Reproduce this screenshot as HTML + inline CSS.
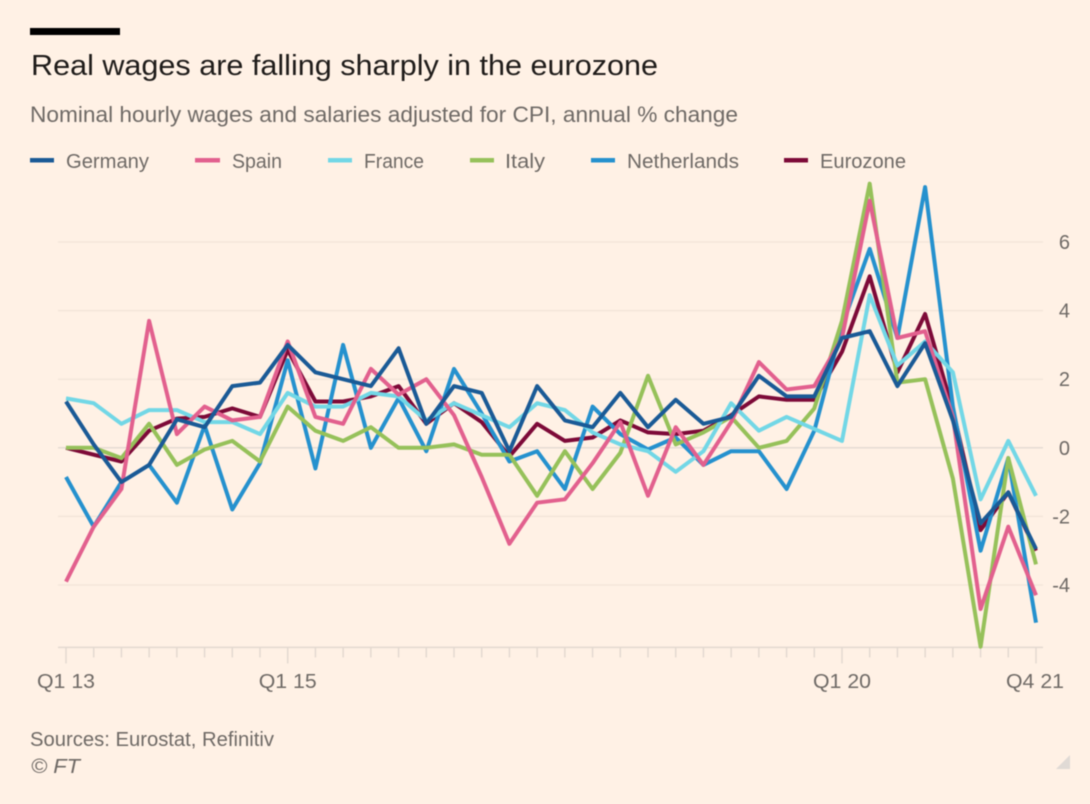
<!DOCTYPE html>
<html lang="en">
<head>
<meta charset="utf-8">
<title>Real wages are falling sharply in the eurozone</title>
<style>
html,body{margin:0;padding:0;background:#fff1e5;}
svg{display:block;font-family:"Liberation Sans",sans-serif;filter:blur(0.4px);}
</style>
</head>
<body>
<svg id="chart" width="1090" height="804" viewBox="0 0 1090 804" xmlns="http://www.w3.org/2000/svg">
  <rect x="0" y="0" width="1090" height="804" fill="#fff1e5"/>
  <rect x="30" y="28" width="90" height="7" fill="#000"/>
  <text x="31" y="75" font-size="29" fill="#1f1c1a" textLength="627" lengthAdjust="spacingAndGlyphs">Real wages are falling sharply in the eurozone</text>
  <text x="30" y="122" font-size="22" fill="#6f6a66" textLength="708" lengthAdjust="spacingAndGlyphs">Nominal hourly wages and salaries adjusted for CPI, annual % change</text>

  <g>
    <g>
      <rect x="30" y="158" width="24" height="4.5" fill="#1a5a96"/>
      <text x="66" y="168" font-size="20" fill="#6f6a66" textLength="83" lengthAdjust="spacingAndGlyphs">Germany</text>
    </g>
    <g>
      <rect x="195" y="158" width="25" height="4.5" fill="#e2608e"/>
      <text x="232" y="168" font-size="20" fill="#6f6a66" textLength="50" lengthAdjust="spacingAndGlyphs">Spain</text>
    </g>
    <g>
      <rect x="328" y="158" width="24" height="4.5" fill="#72d7e6"/>
      <text x="364" y="168" font-size="20" fill="#6f6a66" textLength="60" lengthAdjust="spacingAndGlyphs">France</text>
    </g>
    <g>
      <rect x="470" y="158" width="24" height="4.5" fill="#96c15a"/>
      <text x="505" y="168" font-size="20" fill="#6f6a66" textLength="40" lengthAdjust="spacingAndGlyphs">Italy</text>
    </g>
    <g>
      <rect x="591" y="158" width="24" height="4.5" fill="#2591ce"/>
      <text x="627" y="168" font-size="20" fill="#6f6a66" textLength="112" lengthAdjust="spacingAndGlyphs">Netherlands</text>
    </g>
    <g>
      <rect x="784" y="158" width="24" height="4.5" fill="#7d0a38"/>
      <text x="820" y="168" font-size="20" fill="#6f6a66" textLength="86" lengthAdjust="spacingAndGlyphs">Eurozone</text>
    </g>
  </g>

  <g id="grid"></g>
  <g id="yticks"></g>
  <g id="xaxis"></g>
  <g id="series"></g>

  <text x="30" y="746" font-size="20" fill="#6f6a66" textLength="244" lengthAdjust="spacingAndGlyphs">Sources: Eurostat, Refinitiv</text>
  <text x="31" y="773" font-size="20" font-style="italic" fill="#6f6a66" textLength="49" lengthAdjust="spacingAndGlyphs">© FT</text>
  <polygon points="1056,769 1070,755 1070,769" fill="#e0dad5"/>
</svg>

<script>
const quarterCount = 36;
const yTicks = [6, 4, 2, 0, -2, -4];
const xTickLabels = ["Q1 13", "Q1 15", "Q1 20", "Q4 21"];
const xLabelQuarters = [0, 8, 28, 35];
const germany = [1.35,0.1,-1.0,-0.5,0.83,0.6,1.8,1.9,3.0,2.2,2.0,1.8,2.9,0.7,1.8,1.6,-0.1,1.8,0.8,0.6,1.6,0.6,1.4,0.7,0.9,2.1,1.5,1.5,3.2,3.4,1.8,3.05,0.8,-2.2,-1.3,-2.95];
const spain = [-3.9,-2.3,-1.2,3.7,0.4,1.2,0.8,0.9,3.1,0.9,0.7,2.3,1.55,2.0,0.95,-0.85,-2.8,-1.6,-1.5,-0.45,0.75,-1.4,0.6,-0.5,0.75,2.5,1.7,1.8,3.2,7.2,3.2,3.4,0.9,-4.7,-2.3,-4.3];
const france = [1.44,1.3,0.7,1.1,1.1,0.75,0.75,0.4,1.6,1.2,1.2,1.6,1.5,0.8,1.3,0.95,0.6,1.3,1.1,0.45,0.1,-0.1,-0.7,-0.1,1.3,0.5,0.9,0.55,0.2,4.45,2.4,3.1,2.2,-1.5,0.2,-1.4];
const italy = [0,0,-0.3,0.7,-0.5,-0.05,0.2,-0.4,1.2,0.5,0.2,0.6,0,0,0.1,-0.2,-0.2,-1.4,-0.1,-1.2,-0.15,2.1,0.1,0.45,0.9,0,0.2,1.15,3.7,7.7,1.9,2.0,-0.9,-5.8,-0.3,-3.4];
const netherlands = [-0.85,-2.3,-1.0,-0.5,-1.6,0.65,-1.8,-0.45,2.55,-0.6,3.0,0,1.45,-0.1,2.3,1.0,-0.4,-0.1,-1.2,1.2,0.4,-0.05,0.3,-0.5,-0.1,-0.1,-1.2,0.5,3.55,5.8,3.2,7.6,1.2,-3.0,-0.3,-5.1];
const eurozone = [0,-0.2,-0.4,0.5,0.85,0.9,1.15,0.9,2.85,1.35,1.35,1.5,1.8,0.7,1.3,0.75,-0.25,0.7,0.2,0.3,0.8,0.45,0.4,0.5,0.95,1.5,1.4,1.4,2.8,5.0,2.2,3.9,1.1,-2.4,-1.3,-3.0];

const NS = "http://www.w3.org/2000/svg";
function xScale(q){ return 66 + q * (1036 - 66) / (quarterCount - 1); }
function yScale(v){ return 447.8 - v * 34.3; }
function mk(tag, attrs, parent){
  const el = document.createElementNS(NS, tag);
  for (const k in attrs) el.setAttribute(k, attrs[k]);
  parent.appendChild(el);
  return el;
}

const grid = document.getElementById("grid");
const yt = document.getElementById("yticks");
yTicks.forEach(function(v){
  const line = mk("line", {x1:58, x2:1043, y1:yScale(v), y2:yScale(v), stroke: v === 0 ? "#e6dcd3" : "#f3e6da", "stroke-width":1.5}, grid);
  
  
  const t = mk("text", {x:1070, y:yScale(v)+7, "text-anchor":"end", "font-size":20, fill:"#6f6a66"}, yt);
  
  
  t.textContent = String(v);
});

const xa = document.getElementById("xaxis");
const baseY = yScale(-5.82);
const base = mk("line", {x1:58, x2:1043, y1:baseY, y2:baseY, stroke:"#e3d9d0", "stroke-width":1.5}, xa);


for (let q = 0; q < quarterCount; q++){
  const major = xLabelQuarters.indexOf(q) >= 0;
  const tick = mk("line", {x1:xScale(q), x2:xScale(q), y1:baseY, y2:baseY + (major ? 16 : 10), stroke:"#e3d9d0", "stroke-width":1.5}, xa);
  
  
}
xTickLabels.forEach(function(label, i){
  const q = xLabelQuarters[i];
  const cx = q === quarterCount - 1 ? xScale(q) - 1 : xScale(q);
  const t = mk("text", {x:cx, y:688, "text-anchor":"middle", "font-size":20, fill:"#6f6a66", textLength:58, lengthAdjust:"spacingAndGlyphs"}, xa);
  
  
  t.textContent = label;
});

function drawSeries(values, color, name){
  const pts = values.map(function(v, q){ return xScale(q).toFixed(1) + "," + yScale(v).toFixed(1); }).join(" ");
  const line = mk("polyline", {points:pts, fill:"none", stroke:color, "stroke-width":4, "stroke-linejoin":"round"}, document.getElementById("series"));
  
  
}
drawSeries(eurozone, "#7d0a38", "line-eurozone");
drawSeries(netherlands, "#2591ce", "line-netherlands");
drawSeries(italy, "#96c15a", "line-italy");
drawSeries(france, "#72d7e6", "line-france");
drawSeries(spain, "#e2608e", "line-spain");
drawSeries(germany, "#1a5a96", "line-germany");
</script>
</body>
</html>
